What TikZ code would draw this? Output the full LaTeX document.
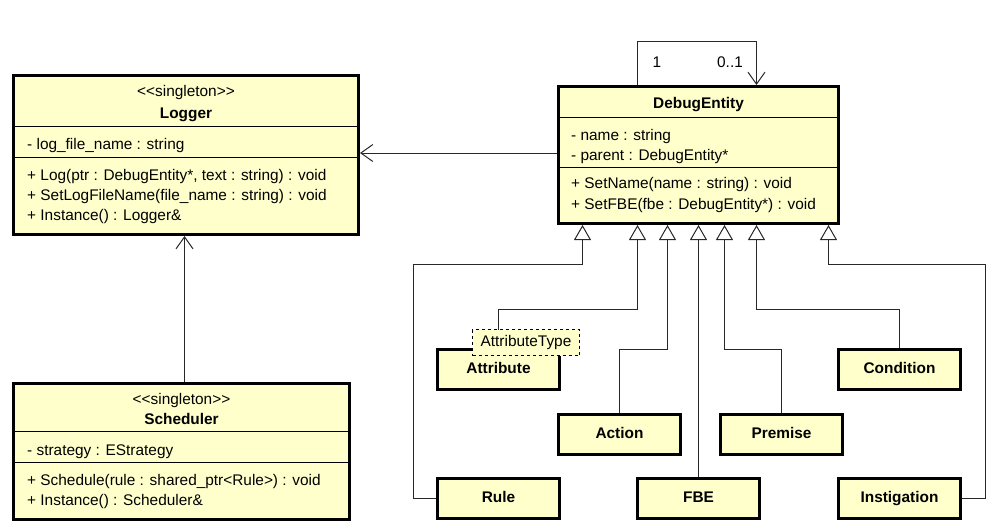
\documentclass[tikz,border=0pt]{standalone}
\usepackage{fontspec}
\setmainfont{Liberation Sans}
\usetikzlibrary{arrows.meta,positioning}
\definecolor{umlfill}{RGB}{255,255,204}
\definecolor{umlline}{RGB}{40,40,40}
\newcommand{\mystereotype}[1]{\textless\kern0pt\textless #1\textgreater\kern0pt\textgreater}
\tikzset{
  myclass/.style = {rectangle, draw, line width=3pt, fill=umlfill, inner sep=0pt, anchor=north west},
  mybold/.style = {font=\fontsize{15.4}{20}\selectfont\bfseries},
  mythin/.style = {line width=1pt},
  mytext/.style = {anchor=base west, inner sep=0pt, font=\fontsize{15.4}{20}\selectfont},
  mystereo/.style = {anchor=base, inner sep=0pt, font=\fontsize{15.4}{20}\selectfont},
  mytitle/.style = {anchor=base, inner sep=0pt, mybold},
  myassoc/.style = {-{Straight Barb[length=12pt,width=17pt]}, line width=1pt, draw=umlline},
  mygen/.style = {-{Triangle[open,length=15pt,width=17pt]}, line width=1pt, draw=umlline},
  mynote/.style = {draw, dash pattern=on 3pt off 3pt, fill=umlfill, line width=1pt, inner sep=0pt,
    minimum width=107pt, minimum height=26pt, anchor=north west, font=\fontsize{15.4}{20}\selectfont},
}

\begin{document}
\begin{tikzpicture}[x=1pt,y=-1pt]
\useasboundingbox (0,0) rectangle (1002,530);

% classes with members
\node (logger) [myclass, minimum width=345pt, minimum height=159pt] at (12,74) {};
\node (sched) [myclass, minimum width=336pt, minimum height=136pt] at (12,382) {};
\node (debug) [myclass, minimum width=280pt, minimum height=137pt] at (557,85) {};

% Logger
\node (loggerstereo) [mystereo] at ([yshift=-22pt]logger.north) {\mystereotype{singleton}};
\node (loggername) [mytitle] at ([yshift=-44pt]logger.north) {Logger};
\draw[mythin] ([yshift=-52pt]logger.north west) -- ([yshift=-52pt]logger.north east);
\node (loggerattr) [mytext] at ([xshift=15pt,yshift=-75pt]logger.north west) {- log\_file\_name : string};
\draw[mythin] ([yshift=-83pt]logger.north west) -- ([yshift=-83pt]logger.north east);
\foreach \t [count=\i from 0] in {{+ Log(ptr : DebugEntity*, text : string) : void},
    {+ SetLogFileName(file\_name : string) : void}, {+ Instance() : Logger\&}}{
  \node [mytext] at ([xshift=15pt,yshift=-106pt-\i*20pt]logger.north west) {\t};
}

% Scheduler
\node (schedstereo) [mystereo] at ([yshift=-22pt]sched.north) {\mystereotype{singleton}};
\node (schedname) [mytitle] at ([yshift=-42pt]sched.north) {Scheduler};
\draw[mythin] ([yshift=-49pt]sched.north west) -- ([yshift=-49pt]sched.north east);
\node (schedattr) [mytext] at ([xshift=15pt,yshift=-73pt]sched.north west) {- strategy : EStrategy};
\draw[mythin] ([yshift=-80pt]sched.north west) -- ([yshift=-80pt]sched.north east);
\foreach \t [count=\i from 0] in {{+ Schedule(rule : shared\_ptr\textless Rule\textgreater) : void}, {+ Instance() : Scheduler\&}}{
  \node [mytext] at ([xshift=15pt,yshift=-103pt-\i*20pt]sched.north west) {\t};
}

% DebugEntity
\node (debugname) [mytitle] at ([yshift=-23pt]debug.north) {DebugEntity};
\draw[mythin] ([yshift=-32pt]debug.north west) -- ([yshift=-32pt]debug.north east);
\foreach \t [count=\i from 0] in {{- name : string}, {- parent : DebugEntity*}}{
  \node [mytext] at ([xshift=14pt,yshift=-55pt-\i*20pt]debug.north west) {\t};
}
\draw[mythin] ([yshift=-82pt]debug.north west) -- ([yshift=-82pt]debug.north east);
\foreach \t [count=\i from 0] in {{+ SetName(name : string) : void}, {+ SetFBE(fbe : DebugEntity*) : void}}{
  \node [mytext] at ([xshift=14pt,yshift=-103pt-\i*21pt]debug.north west) {\t};
}

% subclasses
\foreach \nm/\txt/\x/\y in {attribute/Attribute/436/348, action/Action/557/413, rule/Rule/436/477,
    fbe/FBE/636/477, premise/Premise/719/413, condition/Condition/837/348, instigation/Instigation/837/477}{
  \node (\nm) [myclass, mybold, minimum width=122pt, minimum height=40pt,
    text height=11pt, text depth=4pt] at (\x,\y) {\txt};
}

% associations
\draw[myassoc] ([yshift=-68pt]debug.north west) -- ([yshift=-68pt]debug.north west -| logger.east);
\draw[myassoc] ([xshift=3pt]sched.north) -- ([xshift=3pt]sched.north |- logger.south);
\draw[myassoc] ([xshift=-61pt]debug.north) -- ++(0,-44) -| ([xshift=58pt]debug.north);
\node (multone) [mystereo] at (657,67) {1};
\node (multzero) [mystereo] at (730,67) {0..1};

% generalizations
\foreach \tp/\dx in {t1/-116, t2/-61, t3/-31, t5/26, t6/58, t7/130}{
  \coordinate (\tp) at ([xshift=\dx pt]debug.south);
}
\draw[mygen] (rule.west) -- ++(-23,0) |- ([yshift=-39pt]t1) -- (t1);
\foreach \nm/\tp/\dy in {attribute/t2/84, action/t3/124, premise/t5/124, condition/t6/84}{
  \draw[mygen] (\nm.north) |- ([yshift=-\dy pt]\tp) -- (\tp);
}
\draw[mygen] (fbe.north) -- (fbe.north |- debug.south);
\draw[mygen] (instigation.east) -- ++(23,0) |- ([yshift=-39pt]t7) -- (t7);

% template parameter
\node (attrtype) [mynote] at (472,329) {AttributeType};
\end{tikzpicture}
\end{document}
